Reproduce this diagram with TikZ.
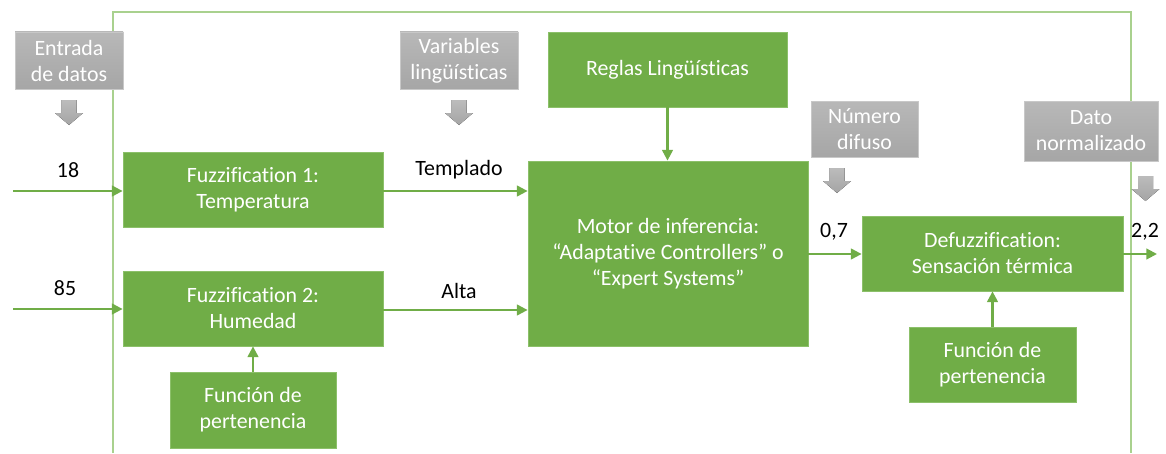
\documentclass[tikz,border=0pt]{standalone}
\usepackage{fontspec}
\setmainfont{Carlito}[Ligatures={NoCommon}]
\usetikzlibrary{arrows.meta}
\definecolor{gfill}{HTML}{70AD47}
\definecolor{gline}{HTML}{A9D18E}
\definecolor{gedge}{HTML}{8CC06A}
\definecolor{grayfill}{HTML}{A6A6A6}
\definecolor{grayedge}{HTML}{C8C8C8}
\definecolor{arrowgray}{HTML}{A5A5A5}
\tikzset{
  gbox/.style={draw=gedge, line width=0.6pt, fill=gfill, text=white, align=center, inner sep=0pt,
    font=\fontsize{16.4}{19.5}\selectfont},
  graybox/.style={draw=grayedge, line width=0.6pt, top color=grayfill!80, bottom color=grayfill, text=white, align=center, inner sep=0pt,
    font=\fontsize{16.4}{19.5}\selectfont},
  lbl/.style={text=black, inner sep=0pt, font=\fontsize{16.4}{19.5}\selectfont},
  conn/.style={draw=gfill, line width=1.6pt, -{Triangle[length=8pt,width=8pt]}},
}
\newcommand\grayarrow[1]{%
  \fill[top color=arrowgray!75, bottom color=arrowgray, shift={(#1)}] (-7.5,0) -- (7.5,0) -- (7.5,13) -- (14,13) -- (0,25) -- (-14,13) -- (-7.5,13) -- cycle;}
\begin{document}
\begin{tikzpicture}[x=0.75pt,y=-0.75pt]
\useasboundingbox (0,0) rectangle (1166,453);
% frame
\draw[gline, line width=0.9pt] (113,453) -- (113,12) -- (1131,12) -- (1131,453);
% gray label boxes
\node[graybox, minimum width=108*0.75pt, minimum height=57*0.75pt] (entrada) at (69,60.5) {Entrada\\de datos};
\node[graybox, minimum width=118*0.75pt, minimum height=57*0.75pt] (variables) at (459,60.5) {Variables\\lingüísticas};
\node[graybox, minimum width=107*0.75pt, minimum height=56*0.75pt] (numero) at (864.5,129) {Número\\difuso};
\node[graybox, minimum width=134*0.75pt, minimum height=60*0.75pt] (dato) at (1091,131) {Dato\\normalizado};
\grayarrow{69,100}
\grayarrow{459,100}
\grayarrow{837,168}
\grayarrow{1145.5,176}
% green boxes
\node[gbox, minimum width=260*0.75pt, minimum height=75*0.75pt] (fuzz1) at (253,189.5) {Fuzzification 1:\\Temperatura};
\node[gbox, minimum width=260*0.75pt, minimum height=75*0.75pt] (fuzz2) at (253,308.5) {Fuzzification 2:\\Humedad};
\node[gbox, minimum width=166*0.75pt, minimum height=76*0.75pt] (func1) at (253,410) {Función de\\pertenencia};
\node[gbox, minimum width=239*0.75pt, minimum height=75*0.75pt] (reglas) at (667.5,69.5) {Reglas Lingüísticas};
\node[gbox, minimum width=280*0.75pt, minimum height=185*0.75pt] (motor) at (668,253.5) {Motor de inferencia:\\“Adaptative Controllers” o\\“Expert Systems”};
\node[gbox, minimum width=261*0.75pt, minimum height=75*0.75pt] (defuzz) at (992.5,253.5) {Defuzzification:\\Sensación térmica};
\node[gbox, minimum width=167*0.75pt, minimum height=75*0.75pt] (func2) at (992.5,364.5) {Función de\\pertenencia};
% coordinates for free ends
\coordinate (in1) at (13,191);
\coordinate (in2) at (13,309);
\coordinate (out) at (1157,254);
% connectors
\draw[conn] (in1) -- (fuzz1.west |- in1);
\draw[conn] (in2) -- (fuzz2.west |- in2);
\draw[conn] (fuzz1.east |- 0,191) -- (motor.west |- 0,191);
\draw[conn] (fuzz2.east |- 0,310) -- (motor.west |- 0,310);
\draw[conn] (reglas.south) -- (motor.north -| reglas.south);
\draw[conn] (func1.north) -- (fuzz2.south);
\draw[conn] (motor.east |- 0,254) -- (defuzz.west |- 0,254);
\draw[conn] (defuzz.east |- out) -- (out);
\draw[conn] (func2.north) -- (defuzz.south -| func2.north);
% labels
\node[lbl] (l18) at (68,170) {18};
\node[lbl] (l85) at (65,288) {85};
\node[lbl] (ltemp) at (459,170) {Templado};
\node[lbl] (lalta) at (459,291) {Alta};
\node[lbl] (l07) at (834,232) {0,7};
\node[lbl] (l22) at (1145,232) {2,2};
\end{tikzpicture}
\end{document}
